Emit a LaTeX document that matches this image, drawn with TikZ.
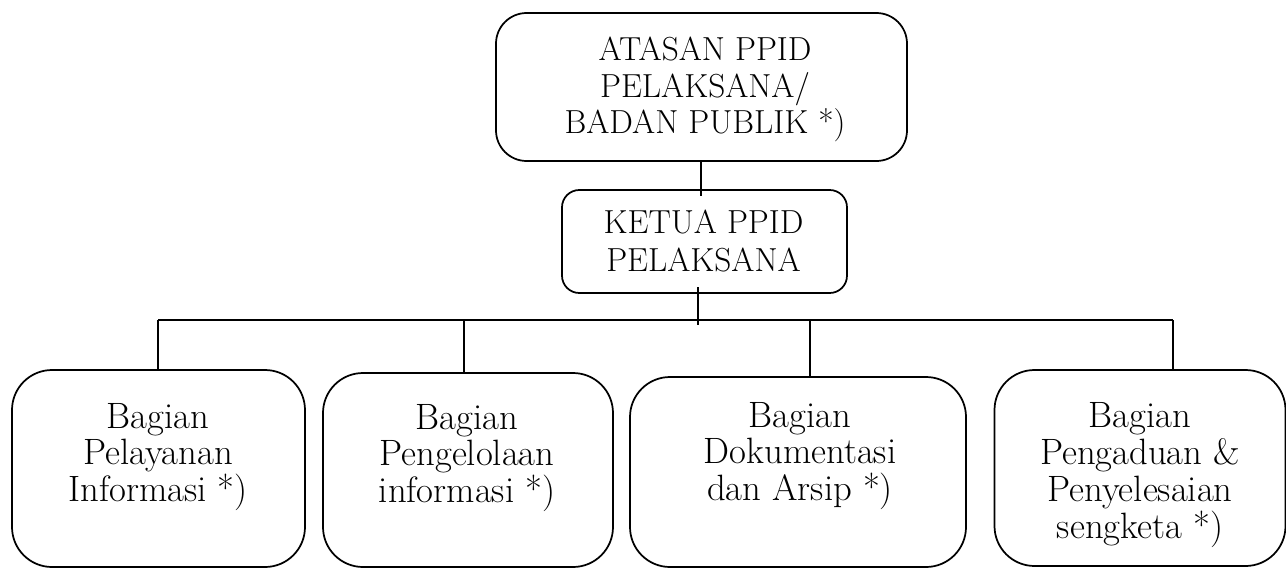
\documentclass[tikz,border=0pt]{standalone}
\usepackage{fontspec}
\begin{document}
\begin{tikzpicture}[x=0.75pt,y=-0.75pt,
  box/.style={draw, line width=1.3pt, rounded corners=#1, inner sep=0pt},
  lbl/.style={align=center, inner sep=0pt, font=\fontsize{25}{27.5}\selectfont},
  blbl/.style={align=center, inner sep=0pt, font=\fontsize{27.5}{27.7}\selectfont},
  conn/.style={line width=1.3pt}]
\useasboundingbox (0,0) rectangle (1286,568);
% top boxes
\node[box=23pt, minimum width=411*0.75pt, minimum height=148*0.75pt] (atasan) at (701.5,87) {};
\node[lbl] (tatasan) at (705,89.5) {ATASAN PPID\\PELAKSANA/\\BADAN PUBLIK *)};
\node[box=13pt, minimum width=285*0.75pt, minimum height=103*0.75pt] (ketua) at (704.5,241.5) {};
\node[lbl, font=\fontsize{25}{28.5}\selectfont] (tketua) at (703.5,241) {KETUA PPID\\PELAKSANA};
% bottom boxes
\node[box=30pt, minimum width=293*0.75pt, minimum height=197*0.75pt] (b1) at (158.5,468.5) {};
\node[box=30pt, minimum width=290*0.75pt, minimum height=194*0.75pt] (b2) at (468,470) {};
\node[box=30pt, minimum width=336*0.75pt, minimum height=190*0.75pt] (b3) at (798,472) {};
\node[box=30pt, minimum width=291*0.75pt, minimum height=196*0.75pt] (b4) at (1140,468) {};
\node[blbl] (t1) at (158,457) {Bagian\\Pelayanan\\Informasi *)};
\node[blbl] (t2) at (467,458) {Bagian\\Pengelolaan\\informasi *)};
\node[blbl] (t3) at (800,456) {Bagian\\Dokumentasi\\dan Arsip *)};
\node[blbl] (t4) at (1140,475) {Bagian\\Pengaduan \&\\Penyelesaian\\sengketa *)};
% connectors
\coordinate (hl) at (158,320);
\coordinate (hr) at (1173,320);
\coordinate (kd) at (698,325);
\draw[conn] (hl) -- (hr);
\draw[conn] (atasan.south -| 701,0) -- (701,196);
\draw[conn] (698,287) -- (kd);
\draw[conn] (hl) -- (b1.north -| hl);
\draw[conn] (464,321) -- (b2.north -| 464,0);
\draw[conn] (810,321) -- (b3.north -| 810,0);
\draw[conn] (hr) -- (b4.north -| hr);
\end{tikzpicture}
\end{document}
